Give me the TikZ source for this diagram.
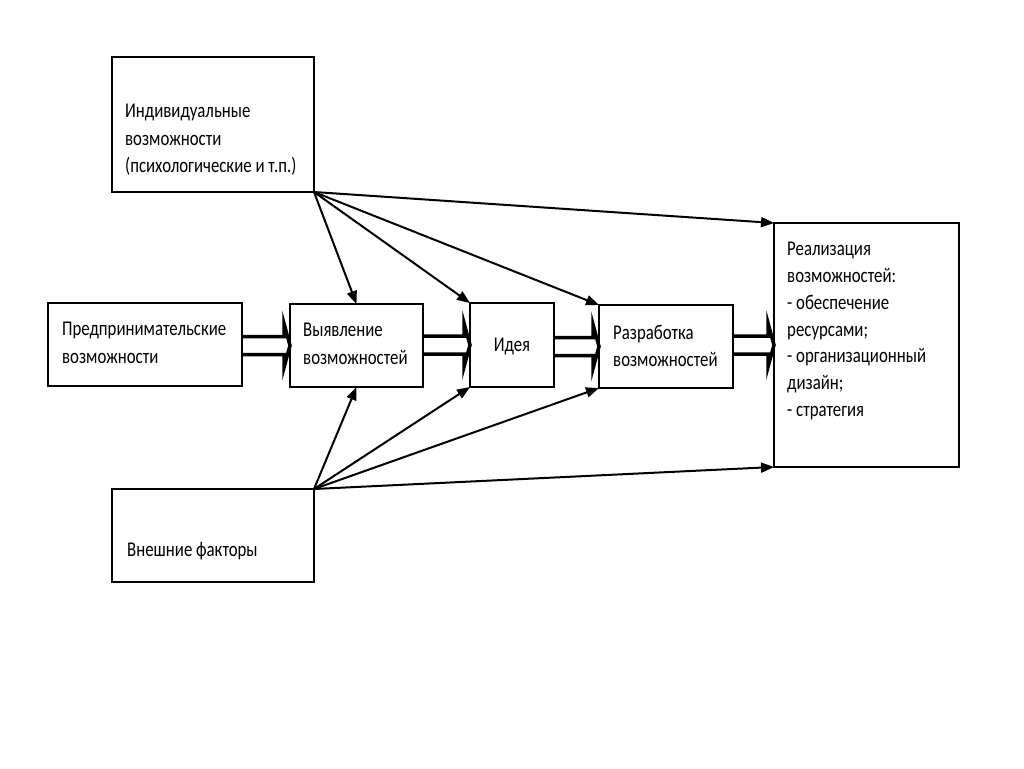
\documentclass[tikz,border=0pt]{standalone}
\usepackage{fontspec}
\setmainfont{Carlito}[FakeStretch=0.8]
\usetikzlibrary{arrows.meta,calc}
\tikzset{
  box/.style={draw, line width=2.5pt, minimum width=#1, inner sep=0pt, outer sep=0pt},
  txt/.style={anchor=west, align=left, inner sep=0pt, font=\fontsize{21}{27.5}\selectfont},
  thin/.style={line width=2pt, -{Triangle[length=13pt,width=10pt]}},
  harr/.style={line width=3.5pt, line join=miter}
}
\newcommand\harrow[2]{%
  \path (#1.east |- #2.west) coordinate (hs-#1);
  \path (#2.west) coordinate (ht-#1);
  \draw[harr] ($(hs-#1)+(0,-9)$) -- ($(ht-#1)+(-6,-9)$) -- ($(ht-#1)+(-6,-22)$) -- (ht-#1)
     -- ($(ht-#1)+(-6,22)$) -- ($(ht-#1)+(-6,9)$) -- ($(hs-#1)+(0,9)$);
}
\begin{document}
\begin{tikzpicture}[x=1pt,y=-1pt]
\useasboundingbox[fill=white] (0,0) rectangle (1024,768);
% boxes
\node[box=202pt, minimum height=135pt] (ind) at (213,124.5) {};
\node[box=194pt, minimum height=83pt] (pred) at (145,344.5) {};
\node[box=133pt, minimum height=83pt] (vyav) at (356.5,345.5) {};
\node[box=84pt, minimum height=84pt] (idea) at (512,345) {};
\node[box=134pt, minimum height=83pt] (razr) at (666,346.5) {};
\node[box=185pt, minimum height=244pt] (real) at (866.5,345) {};
\node[box=202pt, minimum height=93pt] (ext) at (213,535.5) {};
% texts
\node[txt] (tind) at (125,140) {Индивидуальные\\возможности\\(психологические и т.п.)};
\node[txt] (tpred) at (62,343) {Предпринимательские\\возможности};
\node[txt] (tvyav) at (303,344) {Выявление\\возможностей};
\node[txt, anchor=center] (tidea) at (512,346) {Идея};
\node[txt] (trazr) at (613,346) {Разработка\\возможностей};
\node[txt, font=\fontsize{21}{26.7}\selectfont] (treal) at (787,331) {Реализация\\возможностей:\\- обеспечение\\ресурсами;\\- организационный\\дизайн;\\- стратегия};
\node[txt] (text) at (127,551) {Внешние факторы};
% hollow arrows
\harrow{pred}{vyav}
\harrow{vyav}{idea}
\harrow{idea}{razr}
\harrow{razr}{real}
% thin arrows
\draw[thin] (ind.south east) -- (real.north west);
\draw[thin] (ind.south east) -- (vyav.north);
\draw[thin] (ind.south east) -- (idea.north west);
\draw[thin] (ind.south east) -- (razr.north west);
\draw[thin] (ext.north east) -- (vyav.south);
\draw[thin] (ext.north east) -- (idea.south west);
\draw[thin] (ext.north east) -- (razr.south west);
\draw[thin] (ext.north east) -- (real.south west);
\end{tikzpicture}
\end{document}
